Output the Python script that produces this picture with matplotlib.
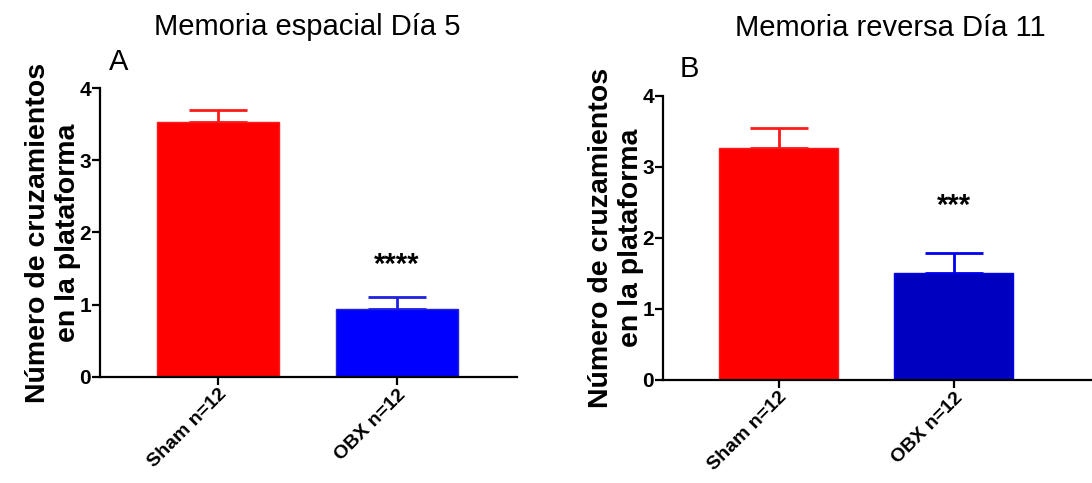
import matplotlib
matplotlib.use('Agg')
import matplotlib.pyplot as plt

plt.rcParams['font.family'] = ['Liberation Sans', 'DejaVu Sans']

groups = ['Sham n=12', 'OBX n=12']
ylabel = 'Número de cruzamientos\nen la plataforma'

# panel A: Memoria espacial Día 5
title_a = 'Memoria espacial Día 5'
means_a = [3.53, 0.94]
sem_a = [0.17, 0.17]
stars_a = '****'
stars_y_a = 1.55

# panel B: Memoria reversa Día 11
title_b = 'Memoria reversa Día 11'
means_b = [3.27, 1.51]
sem_b = [0.28, 0.27]
stars_b = '***'
stars_y_b = 2.45

fig = plt.figure(figsize=(10.92, 4.83), dpi=100)


def draw_panel(ax, means, sems, fills, edges, stars, stars_y, xmax):
    x = [0, 1]
    ax.bar(x, means, width=0.68, color=fills, edgecolor=edges, linewidth=1.0, zorder=2)
    for xi, m, s, c in zip(x, means, sems, edges):
        ax.errorbar(xi, m, yerr=[[0], [s]], color=c, capsize=21, capthick=2,
                    elinewidth=2, zorder=1)
    ax.text(1, stars_y, stars, ha='center', va='center', fontsize=21, fontweight='bold')
    ax.set_xlim(-0.66, xmax)
    ax.set_ylim(0, 4)
    ax.set_yticks([0, 1, 2, 3, 4])
    ax.set_xticks(x)
    ax.set_xticklabels(groups, rotation=45, ha='right', rotation_mode='anchor',
                       fontsize=14, fontweight='bold')
    for lab in ax.get_yticklabels():
        lab.set_fontweight('bold')
        lab.set_fontsize(15)
    ax.spines['top'].set_visible(False)
    ax.spines['right'].set_visible(False)
    ax.spines['left'].set_linewidth(1.6)
    ax.spines['bottom'].set_linewidth(1.6)
    ax.tick_params(axis='both', length=6, width=1.6, pad=0.5)
    ax.set_ylabel(ylabel, fontsize=20.5, fontweight='bold', labelpad=-1)


ax1 = fig.add_axes([0.0916, 0.2195, 0.3818, 0.5983])
draw_panel(ax1, means_a, sem_a, ['#FF0000', '#0000FF'], ['#FF1A1A', '#2020E0'],
           stars_a, stars_y_a, 1.67)
fig.text(0.281, 0.944, title_a, ha='center', va='center', fontsize=21)
fig.text(0.0995, 0.872, 'A', ha='left', va='center', fontsize=21)

ax2 = fig.add_axes([0.6071, 0.2133, 0.3929, 0.5886])
draw_panel(ax2, means_b, sem_b, ['#FF0000', '#0000C0'], ['#FF1A1A', '#0000F0'],
           stars_b, stars_y_b, 1.79)
fig.text(0.815, 0.942, title_b, ha='center', va='center', fontsize=21)
fig.text(0.622, 0.857, 'B', ha='left', va='center', fontsize=21)

fig.savefig('out.png', dpi=100)
